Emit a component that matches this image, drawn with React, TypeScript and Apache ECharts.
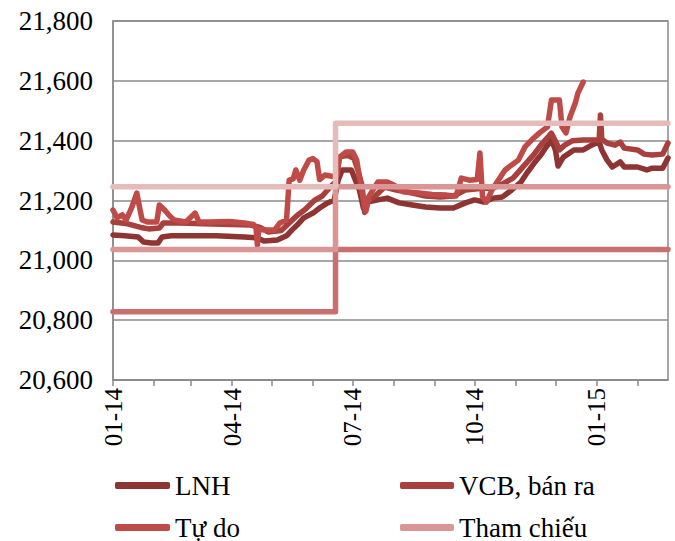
import React, { useEffect, useRef } from 'react';
import * as echarts from 'echarts';

const AXIS_START = '2014-01-01';
const AXIS_END = '2015-02-24';

const yTicks = [20600, 20800, 21000, 21200, 21400, 21600, 21800];
const quarterMonths = ['01', '04', '07', '10'];

const lnh: [string, number][] = [
  ['2014-01-01', 21085], ['2014-01-10', 21082], ['2014-01-20', 21078], ['2014-01-24', 21061],
  ['2014-01-30', 21058], ['2014-02-04', 21058], ['2014-02-07', 21078], ['2014-02-14', 21082],
  ['2014-03-01', 21082], ['2014-03-20', 21082], ['2014-04-10', 21078], ['2014-04-20', 21075],
  ['2014-04-25', 21065], ['2014-05-05', 21068], ['2014-05-12', 21082], ['2014-05-16', 21101],
  ['2014-05-20', 21118], ['2014-05-25', 21142], ['2014-06-01', 21158], ['2014-06-06', 21175],
  ['2014-06-12', 21192], ['2014-06-17', 21202], ['2014-06-20', 21268], ['2014-06-23', 21302],
  ['2014-06-30', 21302], ['2014-07-03', 21268], ['2014-07-06', 21235], ['2014-07-09', 21175],
  ['2014-07-12', 21195], ['2014-07-20', 21202], ['2014-07-27', 21208], ['2014-08-05', 21192],
  ['2014-08-15', 21185], ['2014-08-25', 21178], ['2014-09-05', 21175], ['2014-09-15', 21175],
  ['2014-09-24', 21192], ['2014-10-01', 21202], ['2014-10-08', 21195], ['2014-10-15', 21208],
  ['2014-10-22', 21212], ['2014-10-29', 21235], ['2014-11-05', 21262], ['2014-11-10', 21295],
  ['2014-11-15', 21325], ['2014-11-20', 21352], ['2014-11-24', 21379], ['2014-11-28', 21402],
  ['2014-12-01', 21369], ['2014-12-03', 21315], ['2014-12-07', 21345], ['2014-12-15', 21369],
  ['2014-12-22', 21369], ['2014-12-27', 21382], ['2015-01-03', 21396], ['2015-01-05', 21369],
  ['2015-01-09', 21335], ['2015-01-13', 21312], ['2015-01-19', 21329], ['2015-01-22', 21312],
  ['2015-02-01', 21312], ['2015-02-08', 21302], ['2015-02-12', 21308], ['2015-02-20', 21308],
  ['2015-02-24', 21342],
];

const vcb: [string, number][] = [
  ['2014-01-01', 21128], ['2014-01-12', 21122], ['2014-01-22', 21110], ['2014-01-28', 21105],
  ['2014-02-05', 21108], ['2014-02-08', 21125], ['2014-02-20', 21125], ['2014-03-10', 21122],
  ['2014-03-31', 21120], ['2014-04-15', 21118], ['2014-04-22', 21110], ['2014-04-28', 21095],
  ['2014-05-08', 21100], ['2014-05-14', 21125], ['2014-05-20', 21150], ['2014-05-26', 21170],
  ['2014-06-02', 21200], ['2014-06-08', 21215], ['2014-06-14', 21245], ['2014-06-18', 21262],
  ['2014-06-21', 21345], ['2014-06-27', 21352], ['2014-07-02', 21340], ['2014-07-05', 21300],
  ['2014-07-08', 21250], ['2014-07-10', 21160], ['2014-07-13', 21200], ['2014-07-18', 21215],
  ['2014-07-25', 21245], ['2014-08-03', 21235], ['2014-08-15', 21225], ['2014-08-25', 21215],
  ['2014-09-05', 21212], ['2014-09-15', 21215], ['2014-09-24', 21235], ['2014-10-05', 21240],
  ['2014-10-15', 21242], ['2014-10-22', 21255], ['2014-10-30', 21275], ['2014-11-05', 21305],
  ['2014-11-10', 21330], ['2014-11-15', 21355], ['2014-11-20', 21385], ['2014-11-25', 21410],
  ['2014-11-28', 21425], ['2014-12-02', 21390], ['2014-12-04', 21369], ['2014-12-08', 21385],
  ['2014-12-14', 21400], ['2014-12-22', 21402], ['2015-01-03', 21402], ['2015-01-04', 21486],
  ['2015-01-05', 21405], ['2015-01-09', 21392], ['2015-01-15', 21385], ['2015-01-19', 21395],
  ['2015-01-22', 21375], ['2015-02-01', 21369], ['2015-02-06', 21355], ['2015-02-12', 21352],
  ['2015-02-20', 21355], ['2015-02-24', 21392],
];

const tuDo: [string, number][] = [
  ['2014-01-01', 21168], ['2014-01-04', 21142], ['2014-01-08', 21152], ['2014-01-11', 21135],
  ['2014-01-15', 21175], ['2014-01-19', 21225], ['2014-01-21', 21178], ['2014-01-23', 21135],
  ['2014-01-27', 21128], ['2014-02-03', 21128], ['2014-02-05', 21185], ['2014-02-09', 21168],
  ['2014-02-12', 21152], ['2014-02-16', 21135], ['2014-02-25', 21128], ['2014-03-04', 21158],
  ['2014-03-07', 21128], ['2014-03-15', 21128], ['2014-03-30', 21130], ['2014-04-10', 21125],
  ['2014-04-17', 21120], ['2014-04-19', 21108], ['2014-04-20', 21051], ['2014-04-21', 21105],
  ['2014-04-26', 21101], ['2014-05-03', 21101], ['2014-05-07', 21125], ['2014-05-12', 21135],
  ['2014-05-14', 21268], ['2014-05-17', 21272], ['2014-05-19', 21302], ['2014-05-22', 21268],
  ['2014-05-25', 21302], ['2014-05-29', 21335], ['2014-06-01', 21340], ['2014-06-04', 21330],
  ['2014-06-06', 21270], ['2014-06-10', 21285], ['2014-06-16', 21280], ['2014-06-19', 21285],
  ['2014-06-21', 21345], ['2014-06-26', 21362], ['2014-07-01', 21362], ['2014-07-04', 21335],
  ['2014-07-06', 21280], ['2014-07-09', 21205], ['2014-07-11', 21165], ['2014-07-13', 21212],
  ['2014-07-20', 21262], ['2014-07-27', 21262], ['2014-08-01', 21252], ['2014-08-08', 21229],
  ['2014-08-20', 21225], ['2014-08-30', 21220], ['2014-09-10', 21218], ['2014-09-17', 21215],
  ['2014-09-21', 21275], ['2014-09-27', 21268], ['2014-10-03', 21270], ['2014-10-05', 21359],
  ['2014-10-07', 21212], ['2014-10-10', 21195], ['2014-10-14', 21235], ['2014-10-18', 21262],
  ['2014-10-24', 21302], ['2014-10-29', 21319], ['2014-11-03', 21335], ['2014-11-08', 21379],
  ['2014-11-13', 21402], ['2014-11-19', 21426], ['2014-11-25', 21446], ['2014-11-28', 21536],
  ['2014-12-04', 21536], ['2014-12-06', 21446], ['2014-12-09', 21426], ['2014-12-12', 21479],
  ['2014-12-16', 21526], ['2014-12-18', 21559], ['2014-12-22', 21596],
];

const thamChieu: [string, number][] = [
  ['2014-01-01', 21036], ['2014-06-18', 21036], ['2014-06-18', 21246], ['2015-02-24', 21246],
];
const tran: [string, number][] = [
  ['2014-01-01', 21246], ['2014-06-18', 21246], ['2014-06-18', 21458], ['2015-02-24', 21458],
];
const san: [string, number][] = [
  ['2014-01-01', 20828], ['2014-06-18', 20828], ['2014-06-18', 21036], ['2015-02-24', 21036],
];

function buildDays(start: string, end: string): string[] {
  const out: string[] = [];
  const d = new Date(start + 'T00:00:00Z');
  const e = new Date(end + 'T00:00:00Z');
  while (d.getTime() <= e.getTime()) {
    out.push(d.toISOString().slice(0, 10));
    d.setUTCDate(d.getUTCDate() + 1);
  }
  return out;
}

const FONT = 'Liberation Serif';

export default function App() {
  const ref = useRef<HTMLDivElement>(null);
  useEffect(() => {
    if (!ref.current) return;
    const chart = echarts.init(ref.current, undefined, { renderer: 'svg' });
    const days = buildDays(AXIS_START, AXIS_END);
    const lineSeries = (name: string, data: [string, number][], color: string, width: number, z: number) => ({
      name,
      type: 'line',
      data,
      showSymbol: false,
      symbol: 'none',
      z,
      itemStyle: { color },
      lineStyle: { color, width, cap: 'round', join: 'round' },
    });
    const legendItem = (name: string, left: number, top: number, w: number) => ({
      data: [name],
      left,
      top,
      padding: 0,
      icon: 'roundRect',
      itemWidth: w,
      itemHeight: 7,
      itemGap: 0,
      textStyle: { fontFamily: FONT, fontSize: 27, color: '#000' },
    });
    chart.setOption({
      animation: false,
      backgroundColor: '#fff',
      textStyle: { fontFamily: FONT },
      grid: {
        left: 113, right: 7, top: 21, bottom: 161,
        show: true, borderColor: '#8a8a8a', borderWidth: 1.5, containLabel: false,
      },
      legend: [
        legendItem('LNH', 115, 472, 55),
        legendItem('VCB, bán ra', 400, 472, 54),
        legendItem('Tự do', 115, 514, 55),
        legendItem('Tham chiếu', 400, 514, 54),
      ],
      xAxis: {
        type: 'category',
        data: days,
        boundaryGap: false,
        axisLine: { show: true, lineStyle: { color: '#8a8a8a', width: 1.5 } },
        axisTick: {
          show: true,
          length: 6,
          lineStyle: { color: '#8a8a8a', width: 1.5 },
          interval: (_i: number, v: string) => v.endsWith('-01'),
        },
        axisLabel: {
          rotate: 90,
          margin: 8,
          fontFamily: FONT,
          fontSize: 25,
          color: '#000',
          interval: (_i: number, v: string) => v.endsWith('-01') && quarterMonths.includes(v.slice(5, 7)),
          formatter: (v: string) => v.slice(5, 7) + '-' + v.slice(2, 4),
        },
        splitLine: { show: false },
      },
      yAxis: {
        type: 'value',
        min: yTicks[0],
        max: yTicks[yTicks.length - 1],
        interval: 200,
        axisLine: { show: true, lineStyle: { color: '#8a8a8a', width: 1.5 } },
        axisTick: { show: false },
        axisLabel: {
          margin: 20,
          fontFamily: FONT,
          fontSize: 27,
          color: '#000',
          formatter: (v: number) => v.toLocaleString('en-US'),
        },
        splitLine: { show: true, lineStyle: { color: '#8a8a8a', width: 1.5 } },
      },
      series: [
        lineSeries('LNH', lnh, '#8E3432', 5.5, 2),
        lineSeries('VCB, bán ra', vcb, '#A8403D', 5.5, 3),
        lineSeries('Tự do', tuDo, '#BF4B48', 5.5, 4),
        lineSeries('Sàn', san, '#C96F6D', 5.5, 5),
        lineSeries('Tham chiếu', thamChieu, '#D99694', 5.5, 6),
        lineSeries('Trần', tran, '#E6BCBB', 5.5, 7),
      ],
    });
    return () => chart.dispose();
  }, []);
  return <div ref={ref} style={{ position: 'absolute', left: 0, top: 0, width: 675, height: 541 }} />;
}
